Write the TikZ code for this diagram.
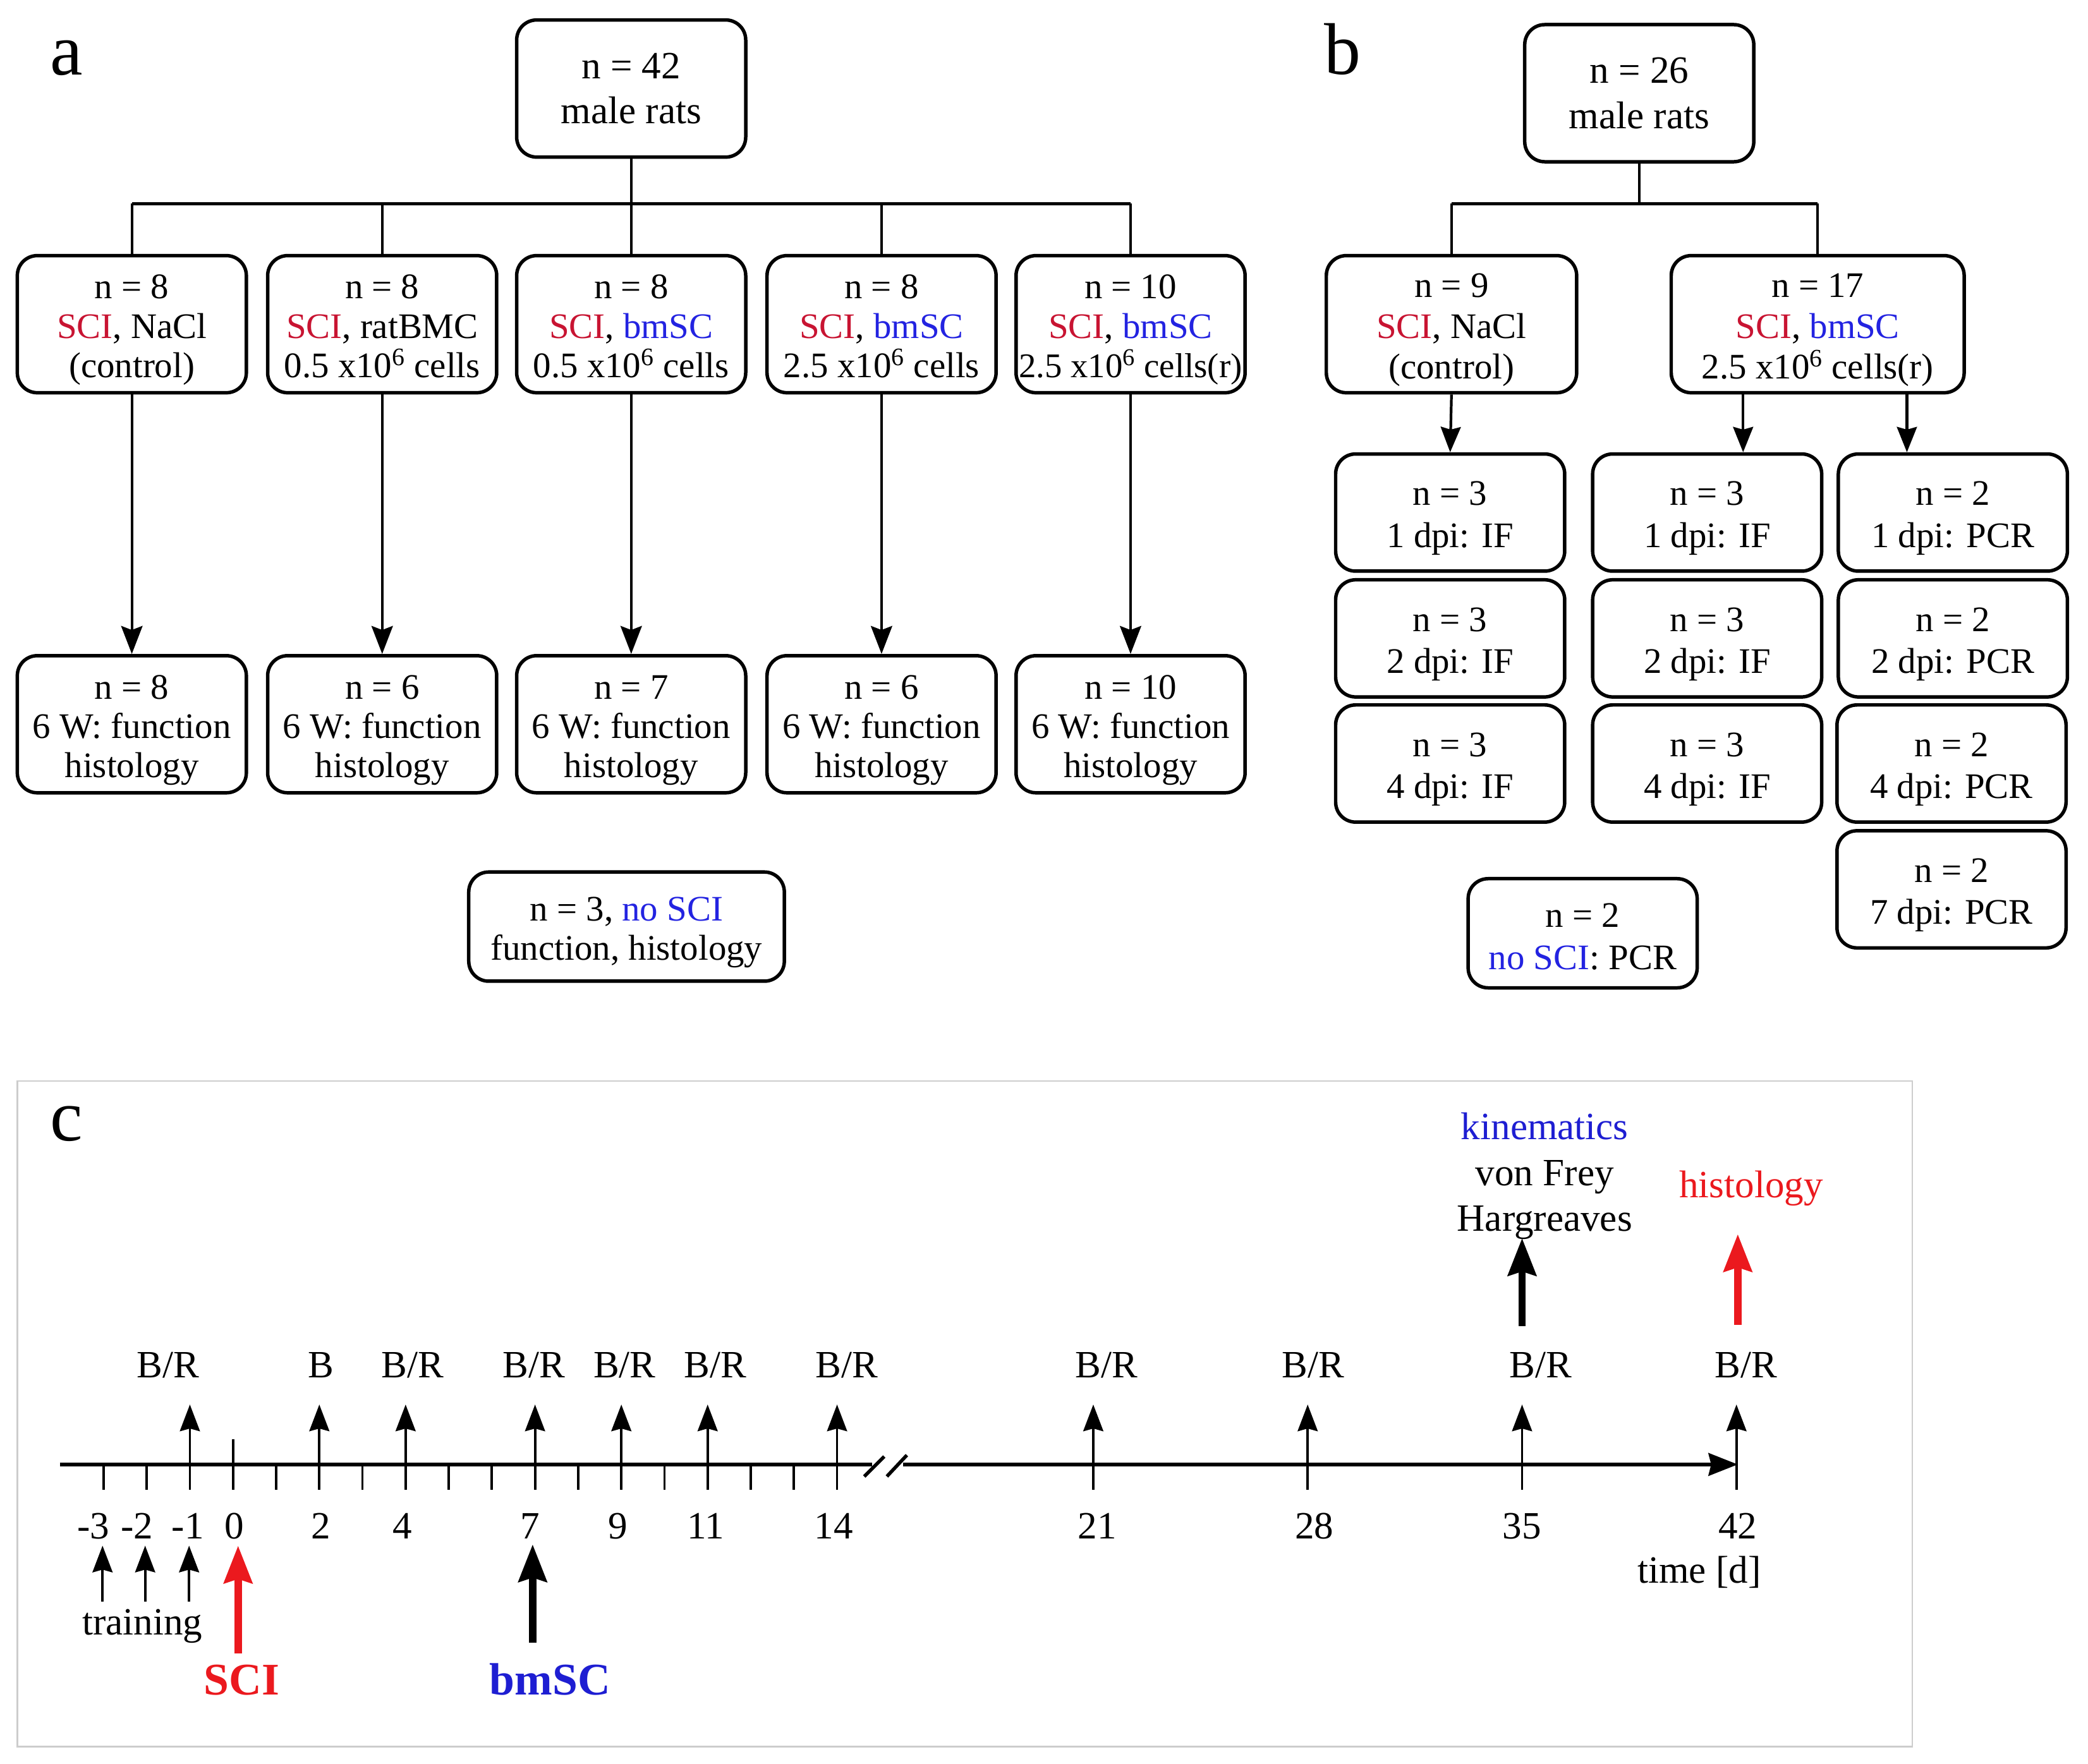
\documentclass[tikz,border=0pt]{standalone}
\usepackage{fontspec}
\setmainfont{Liberation Serif}
\usetikzlibrary{arrows.meta}
\definecolor{sred}{RGB}{200,20,50}
\definecolor{sblue}{RGB}{35,35,225}
\definecolor{cred}{RGB}{235,25,30}
\definecolor{cblue}{RGB}{30,30,210}
\definecolor{fgray}{RGB}{205,205,205}
\newcommand{\SCIr}{\textcolor{sred}{SCI}}
\newcommand{\bmSCb}{\textcolor{sblue}{bmSC}}
\newcommand{\sixx}{x10\textsuperscript{6}}
\newcommand{\tstr}{\rule{0pt}{27.8pt}}
\newcommand{\bstr}{\rule[-7pt]{0pt}{7pt}}
\begin{document}
\begin{tikzpicture}[x=1pt,y=-1pt,
  box/.style={draw,line width=2.6pt,rounded corners=15pt,align=center,inner sep=0pt,
    minimum width=172pt,minimum height=103pt,font=\fontsize{27}{29.5}\selectfont},
  topbox/.style={box,font=\fontsize{29}{34}\selectfont},
  bbox/.style={box,font=\fontsize{27}{30.5}\selectfont},
  sbox/.style={box,minimum height=88pt,font=\fontsize{27}{31.5}\selectfont},
  conn/.style={line width=1.8pt},
  bus/.style={line width=2.6pt},
  arrA/.style={line width=1.8pt,-{Stealth[length=21pt,width=16pt,inset=3pt]}},
  arrB/.style={line width=2pt,-{Stealth[length=19pt,width=15pt,inset=2pt]}},
  arrC/.style={line width=1.8pt,-{Stealth[length=20pt,width=15pt,inset=2pt]}},
  bigarr/.style={line width=5.5pt,-{Stealth[length=28pt,width=21pt,inset=3pt]}},
  axisline/.style={line width=2.6pt},
  lbl/.style={font=\fontsize{29}{34}\selectfont,inner sep=0pt,anchor=base},
  panel/.style={font=\fontsize{55}{60}\selectfont,inner sep=0pt,anchor=base}
]
\useasboundingbox (0,0) rectangle (1568,1325);

% ---------------- panel a ----------------
\node[panel] (la) at (50,56) {a};
\node[topbox] (A0) at (474,66.5) {n = 42\\male rats};
\node[box] (A1) at (99,243.5) {\tstr n = 8\\\SCIr, NaCl\\(control)\bstr};
\node[box] (A2) at (287,243.5) {\tstr n = 8\\\SCIr, ratBMC\\0.5 \sixx{} cells\bstr};
\node[box] (A3) at (474,243.5) {\tstr n = 8\\\SCIr, \bmSCb\\0.5 \sixx{} cells\bstr};
\node[box] (A4) at (662,243.5) {\tstr n = 8\\\SCIr, \bmSCb\\2.5 \sixx{} cells\bstr};
\node[box] (A5) at (849,243.5) {\tstr n = 10\\\SCIr, \bmSCb\\{\fontsize{26}{29.5}\selectfont 2.5 \sixx{} cells(r)}\bstr};
\node[box] (B1) at (99,544) {\tstr n = 8\\6 W: function\\histology\bstr};
\node[box] (B2) at (287,544) {\tstr n = 6\\6 W: function\\histology\bstr};
\node[box] (B3) at (474,544) {\tstr n = 7\\6 W: function\\histology\bstr};
\node[box] (B4) at (662,544) {\tstr n = 6\\6 W: function\\histology\bstr};
\node[box] (B5) at (849,544) {\tstr n = 10\\6 W: function\\histology\bstr};
\node[box,minimum width=237pt,minimum height=82pt] (A6) at (470.5,696)
  {\tstr n = 3, \textcolor{sblue}{no SCI}\\function, histology\bstr};

\coordinate (ybusA) at (0,153);
\draw[conn] (A0.south) -- (A0.south |- ybusA);
\draw[bus] (A1.north |- ybusA) -- (A5.north |- ybusA);
\foreach \i in {1,...,5}{
  \draw[conn] (A\i.north |- ybusA) -- (A\i.north);
  \draw[arrA] (A\i.south) -- (B\i.north);
}

% ---------------- panel b ----------------
\node[panel] (lb) at (1008,55.7) {b};
\node[topbox] (C0) at (1231,70) {n = 26\\male rats};
\node[bbox,minimum width=188pt] (C1) at (1090,243.5) {\tstr n = 9\\\SCIr, NaCl\\(control)\bstr};
\node[bbox,minimum width=220pt] (C2) at (1365,243.5) {\tstr n = 17\\\SCIr, \bmSCb\\2.5 \sixx{} cells(r)\bstr};
\node[sbox] (D11) at (1089,385) {\tstr n = 3\\1 dpi: IF\bstr};
\node[sbox] (D12) at (1089,479.5) {\tstr n = 3\\2 dpi: IF\bstr};
\node[sbox] (D13) at (1089,573.5) {\tstr n = 3\\4 dpi: IF\bstr};
\node[sbox] (D21) at (1282,385) {\tstr n = 3\\1 dpi: IF\bstr};
\node[sbox] (D22) at (1282,479.5) {\tstr n = 3\\2 dpi: IF\bstr};
\node[sbox] (D23) at (1282,573.5) {\tstr n = 3\\4 dpi: IF\bstr};
\node[sbox] (D31) at (1466.5,385) {\tstr n = 2\\1 dpi: PCR\bstr};
\node[sbox] (D32) at (1466.5,479.5) {\tstr n = 2\\2 dpi: PCR\bstr};
\node[sbox] (D33) at (1465.5,573.5) {\tstr n = 2\\4 dpi: PCR\bstr};
\node[sbox] (D34) at (1465.5,668) {\tstr n = 2\\7 dpi: PCR\bstr};
\node[sbox,minimum height=82pt] (E1) at (1188.5,701) {\tstr n = 2\\\textcolor{sblue}{no SCI}: PCR\rule[-5pt]{0pt}{5pt}};

\coordinate (ybusB) at (0,153);
\draw[conn] (C0.south) -- (C0.south |- ybusB);
\draw[bus] (C1.north |- ybusB) -- (C2.north |- ybusB);
\draw[conn] (C1.north |- ybusB) -- (C1.north);
\draw[conn] (C2.north |- ybusB) -- (C2.north);
\coordinate (xb2) at (1309,0);
\coordinate (xb3) at (1432,0);
\draw[arrB] (C1.south) -- (D11.north);
\draw[arrB] (C2.south -| xb2) -- (D21.north -| xb2);
\draw[arrB] (C2.south -| xb3) -- (D31.north -| xb3);

% ---------------- panel c ----------------
\draw[fgray,line width=1.3pt] (13,812) rectangle (1436,1312);
\node[panel] (lc) at (50,857) {c};

\coordinate (ax0) at (45,1100);
\coordinate (axb1) at (655,1100);
\coordinate (axb2) at (678,1100);
\coordinate (axend) at (1305,1100);
\draw[axisline] (ax0) -- (axb1);
\draw[axisline,-{Stealth[length=22pt,width=17pt,inset=2pt]}] (axb2) -- (axend);
\draw[axisline] (649,1109) -- (664,1094);
\draw[axisline] (666,1109) -- (681,1093);

\foreach \d in {-3,-2,1,3,5,6,8,10,12,13}{
  \pgfmathsetmacro\xx{175+32.4*\d}
  \draw[conn] (\xx,1100) -- (\xx,1119);
}
\draw[conn] (175,1081) -- (175,1119);
\foreach \d in {-1,2,4,7,9,11,14}{
  \pgfmathsetmacro\xx{175+32.4*\d}
  \draw[arrC] (\xx,1119) -- (\xx,1055);
}
\foreach \d in {21,28,35,42}{
  \pgfmathsetmacro\xx{821+23*(\d-21)}
  \draw[arrC] (\xx,1119) -- (\xx,1055);
}
\foreach \x in {126,310,401,469,537,636,831,986,1157,1311}
  \node[lbl] (br\x) at (\x,1035) {B/R};
\node[lbl] (b2) at (241,1035) {B};
\foreach \x/\t in {70/-3,103/-2,141/-1,176/0,241/2,302/4,398/7,464/9,530/11,626/14,824/21,987/28,1143/35,1305/42}
  \node[lbl] (num\x) at (\x,1156) {\t};

\foreach \x in {77,109,142}
  \draw[arrC] (\x,1203) -- (\x,1161);
\node[lbl] (train) at (107,1228) {training};
\node[lbl] (timed) at (1276,1189) {time [d]};

\draw[bigarr,cred] (178.8,1242) -- (178.8,1161);
\node[lbl,font=\fontsize{34}{34}\selectfont\bfseries,text=cred] (sci) at (181.5,1273) {SCI};
\draw[bigarr] (400,1234) -- (400,1160);
\node[lbl,font=\fontsize{34}{34}\selectfont\bfseries,text=cblue] (bmsc) at (413,1273) {bmSC};

\draw[bigarr] (1143,996) -- (1143,930);
\draw[bigarr,cred] (1305,995) -- (1305,927);
\node[lbl,text=cblue] (kin) at (1160,855.7) {kinematics};
\node[lbl] (vf) at (1160,890.7) {von Frey};
\node[lbl] (hg) at (1160,924.7) {Hargreaves};
\node[lbl,text=cred] (hist) at (1315,899.4) {histology};
\end{tikzpicture}
\end{document}
